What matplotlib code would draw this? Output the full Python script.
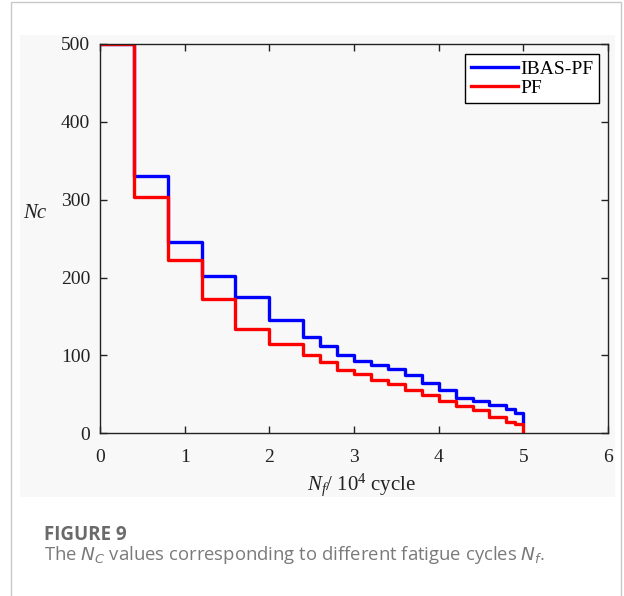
import matplotlib
matplotlib.use("Agg")
import matplotlib.pyplot as plt
import matplotlib.patches as mpatches

# step data (Nf in 10^4 cycles)
nf_edges = [0, 0.4, 0.8, 1.2, 1.6, 2.0, 2.4, 2.6, 2.8, 3.0, 3.2, 3.4, 3.6,
            3.8, 4.0, 4.2, 4.4, 4.6, 4.8, 4.9, 5.0]
nc_ibas = [500, 330, 246, 202, 175, 146, 124, 112, 101, 93, 88, 82, 75,
           64, 56, 45, 42, 36, 31, 26, 14]
nc_pf = [500, 303, 223, 172, 134, 115, 100, 91, 81, 76, 68, 63, 56,
         49, 41, 35, 30, 21, 15, 12, 2]
x_ticks = [0, 1, 2, 3, 4, 5, 6]
y_ticks = [0, 100, 200, 300, 400, 500]

plt.rcParams["mathtext.fontset"] = "custom"
plt.rcParams["mathtext.rm"] = "Liberation Serif"
plt.rcParams["mathtext.it"] = "Liberation Serif:italic"

W, H = 624, 596
fig = plt.figure(figsize=(W / 100, H / 100), dpi=100)
fig.patch.set_facecolor("white")

# outer frame and light image background
fig.add_artist(mpatches.Rectangle((11 / W, -0.05), (620.5 - 11) / W, 1.05 - 2 / H,
                                  transform=fig.transFigure, fill=False,
                                  edgecolor="#c8c8c8", linewidth=1.0))
fig.add_artist(mpatches.Rectangle((20 / W, (H - 497) / H), (615 - 20) / W, (497 - 35) / H,
                                  transform=fig.transFigure, facecolor="#f8f8f8",
                                  edgecolor="none", zorder=0))

ax = fig.add_axes([100 / W, (H - 433.3) / H, 508 / W, 389.3 / H])
ax.set_facecolor("#f8f8f8")

ax.step(nf_edges, nc_ibas, where="post", color="#0000ff", linewidth=2.4, label="IBAS-PF")
ax.step(nf_edges, nc_pf, where="post", color="#ff0000", linewidth=2.4, label="PF")

ax.set_xlim(0, 6)
ax.set_ylim(0, 500)
ax.set_xticks(x_ticks)
ax.set_yticks(y_ticks)
ax.tick_params(direction="in", top=True, right=True, length=5, width=1,
               labelsize=14, colors="#222222")
ax.tick_params(axis="x", pad=11)
ax.tick_params(axis="y", pad=7)
for lab in ax.get_xticklabels() + ax.get_yticklabels():
    lab.set_fontfamily("Liberation Serif")
for sp in ax.spines.values():
    sp.set_linewidth(1.0)
    sp.set_color("#222222")

leg = ax.legend(loc="upper right", bbox_to_anchor=(0.982, 0.974), borderaxespad=0,
                fancybox=False, edgecolor="black", framealpha=1, facecolor="white",
                prop={"family": "Liberation Serif", "size": 14},
                handlelength=2.4, handletextpad=0.1, labelspacing=0.1,
                borderpad=0.3)
leg.get_frame().set_linewidth(1.0)

fig.text(23 / W, (H - 213) / H, "Nc", family="Liberation Serif", style="italic",
         fontsize=15, ha="left", va="center", color="#222222")
fig.text(362 / W, (H - 485) / H, r"$N_f$/ 10$^4$ cycle", family="Liberation Serif",
         fontsize=15, ha="center", va="center", color="#222222")

fig.text(44 / W, (H - 535) / H, "FIGURE 9", family="Open Sans", fontweight="bold",
         fontsize=13.5, color="#6a6a6a", ha="left", va="center")
fig.text(44 / W, (H - 555) / H, r"The $N_C$ values corresponding to different fatigue cycles $N_f$.",
         family="Open Sans", fontsize=13.3, color="#7a7a7a", ha="left", va="center",
         math_fontfamily="dejavusans")

fig.savefig("out.png", dpi=100)
